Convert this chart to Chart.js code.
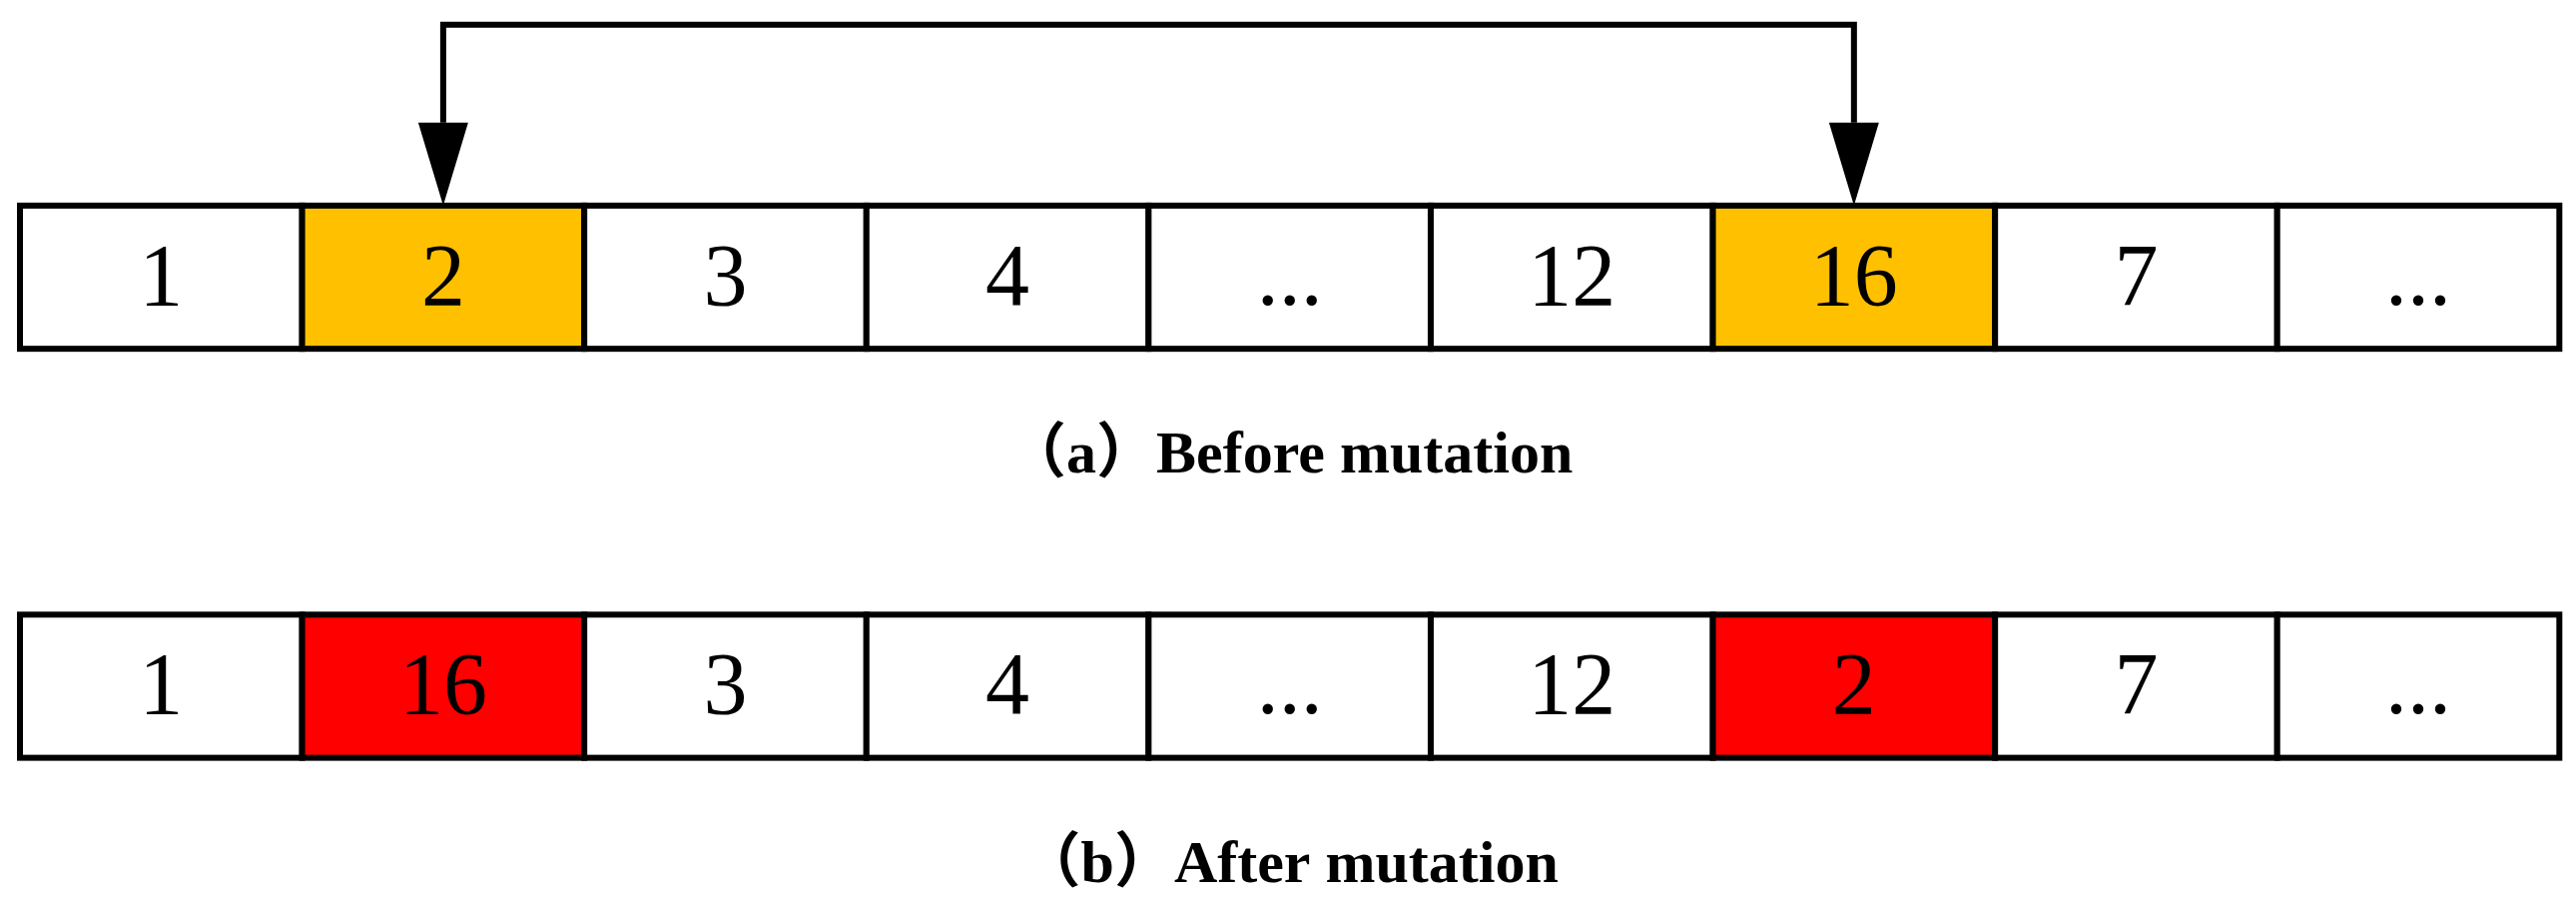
<!DOCTYPE html>
<html>
<head>
<meta charset="utf-8">
<script src="https://cdn.jsdelivr.net/npm/chart.js@4.4.1/dist/chart.umd.min.js"></script>
<style>
  html, body { margin: 0; padding: 0; background: #fff; }
  canvas { display: block; }
</style>
</head>
<body>
<canvas id="mutationChart" width="2580" height="922"></canvas>
<script>
// gene sequence before and after the swap mutation
const cellsBefore = ['1', '2', '3', '4', '...', '12', '16', '7', '...'];
const cellsAfter = ['1', '16', '3', '4', '...', '12', '2', '7', '...'];
const swapped = [1, 6];
const captions = ['（a）Before mutation', '（b）After mutation'];
const rowColors = ['#FFC000', '#FF0000'];

const rows = [cellsBefore, cellsAfter];
const HALF = 0.175;

const cellPlugin = {
    id: 'cells',
    afterDatasetsDraw(chart) {
        const { ctx, scales: { x, y } } = chart;
        ctx.save();
        rows.forEach((cells, r) => {
            const top = y.getPixelForValue(r - HALF);
            const bottom = y.getPixelForValue(r + HALF);
            cells.forEach((label, i) => {
                const left = x.getPixelForValue(i);
                const right = x.getPixelForValue(i + 1);
                ctx.fillStyle = swapped.includes(i) ? rowColors[r] : '#fff';
                ctx.fillRect(left, top, right - left, bottom - top);
                ctx.lineWidth = 6;
                ctx.strokeStyle = '#000';
                ctx.strokeRect(left, top, right - left, bottom - top);
                ctx.fillStyle = '#000';
                ctx.font = '88px "Liberation Serif", serif';
                ctx.textAlign = 'center';
                ctx.textBaseline = 'middle';
                ctx.fillText(label, (left + right) / 2, (top + bottom) / 2 + 4);
            });
            ctx.font = 'bold 60px "Liberation Serif", "Noto Sans CJK SC", serif';
            ctx.textAlign = 'center';
            ctx.fillText(captions[r], x.getPixelForValue(4.5), y.getPixelForValue(r + 0.44));
        });

        // swap arrow between the two chosen genes
        const xa = x.getPixelForValue(swapped[0] + 0.5);
        const xb = x.getPixelForValue(swapped[1] + 0.5);
        const yTop = y.getPixelForValue(-0.617);
        const yHead = y.getPixelForValue(-0.378);
        const yTip = y.getPixelForValue(-HALF);
        ctx.lineWidth = 6;
        ctx.beginPath();
        ctx.moveTo(xa, yHead);
        ctx.lineTo(xa, yTop);
        ctx.lineTo(xb, yTop);
        ctx.lineTo(xb, yHead);
        ctx.stroke();
        [xa, xb].forEach(px => {
            ctx.beginPath();
            ctx.moveTo(px - 25, yHead);
            ctx.lineTo(px + 25, yHead);
            ctx.lineTo(px, yTip);
            ctx.closePath();
            ctx.fill();
        });
        ctx.restore();
    }
};

new Chart(document.getElementById('mutationChart'), {
    type: 'scatter',
    data: { datasets: [{ data: [], pointRadius: 0 }] },
    options: {
        responsive: false,
        animation: false,
        devicePixelRatio: 1,
        layout: { padding: 0 },
        plugins: { legend: { display: false }, tooltip: { enabled: false } },
        scales: {
            x: { type: 'linear', min: -0.0708, max: 9.059, display: false },
            y: { type: 'linear', min: -0.6777, max: 1.574, reverse: true, display: false },
        },
    },
    plugins: [cellPlugin],
});
</script>
</body>
</html>
